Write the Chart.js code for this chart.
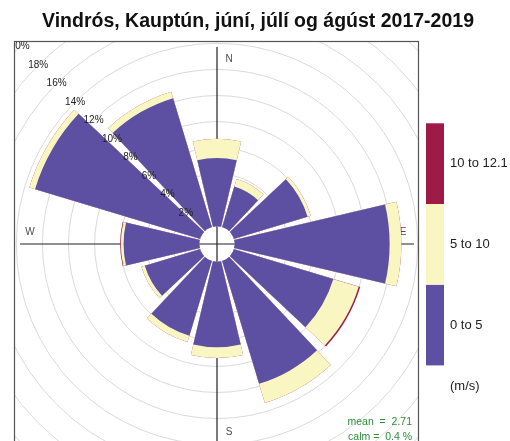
<!DOCTYPE html>
<html>
<head>
<meta charset="utf-8">
<script src="https://cdn.jsdelivr.net/npm/chart.js@4"></script>
<style>
  html, body { margin: 0; padding: 0; background: #fff; }
  #wrap { position: relative; width: 510px; height: 441px; overflow: hidden; }
  #rose { position: absolute; left: -62px; top: -35px; }
</style>
</head>
<body>
<div id="wrap"><canvas id="rose" width="600" height="600"></canvas></div>
<script>
// Direcciones (grados) y frecuencia (%) de cada rango de velocidad
const directions = [0, 30, 60, 90, 120, 150, 180, 210, 240, 270, 300, 330];
const freq0to5 = [5.21, 3.22, 5.87, 11.85, 7.93, 9.81, 6.54, 5.96, 4.40, 5.78, 13.18, 10.29];
const freq5to10 = [1.48, 0.61, 0.26, 0.90, 2.03, 1.53, 0.82, 0.51, 0.27, 0.21, 0.46, 0.51];
const freq10to12 = [0, 0, 0, 0, 0.12, 0, 0, 0, 0, 0.05, 0, 0];
const bandLabels = ["0 to 5", "5 to 10", "10 to 12.1"];
const bandColors = ["#5D4FA1", "#F9F6C2", "#9E1B47"];
const radialTicks = [2, 4, 6, 8, 10, 12, 14, 16, 18, 20];
const compassLabels = ["N", "E", "S", "W"];
const titleText = "Vindrós, Kauptún, júní, júlí og ágúst 2017-2019";
const statsText = ["mean  =  2.71", "calm =  0.4 %"];
const unitText = "(m/s)";

const WEDGE = 26.5; // ancho de cada cuña en grados
const GAP = 3.5;    // hueco entre cuñas
const OX = 62, OY = 35; // desplazamiento del canvas respecto a la página
const FONT = "'Liberation Sans', Arial, sans-serif";

// Frecuencias acumuladas para apilar las cuñas
const cum1 = freq0to5.slice();
const cum2 = cum1.map((v, i) => v + freq5to10[i]);
const cum3 = cum2.map((v, i) => v + freq10to12[i]);

// Cada dirección va seguida de un hueco vacío
function withGaps(values) {
    const out = [];
    values.forEach(v => { out.push(v); out.push(0); });
    return out;
}

const labels = directions.flatMap(d => [d + "°", ""]);
const datasets = [cum1, cum2, cum3].map((vals, k) => ({
    label: bandLabels[k],
    data: withGaps(vals),
    backgroundColor: ctx => ctx.dataIndex % 2 ? "rgba(0,0,0,0)" : bandColors[k],
    borderWidth: 0,
    angle: ctx => ctx.dataIndex % 2 ? GAP : WEDGE
}));

// Elementos de la figura: marco, ejes, etiquetas, leyenda
const decor = {
    id: "decor",
    beforeDraw(chart) {
        const ctx = chart.ctx;
        ctx.save();
        ctx.fillStyle = "#fff";
        ctx.fillRect(0, 0, chart.width, chart.height);
        ctx.beginPath();
        ctx.rect(14 + OX, 41 + OY, 404, 410);
        ctx.clip();
    },
    beforeDatasetsDraw(chart) {
        const ctx = chart.ctx;
        const s = chart.scales.r;
        const cx = s.xCenter - OX, cy = s.yCenter - OY;
        ctx.save();
        ctx.translate(OX, OY);
        ctx.strokeStyle = "#222";
        ctx.lineWidth = 1.2;
        ctx.beginPath();
        ctx.moveTo(cx, cy - 197); ctx.lineTo(cx, cy + 200);
        ctx.moveTo(cx - 197, cy); ctx.lineTo(cx + 197, cy);
        ctx.stroke();
        ctx.fillStyle = "#4d4d4d";
        ctx.font = "10px " + FONT;
        ctx.textAlign = "center";
        ctx.textBaseline = "middle";
        const pos = [[12, -185], [186, -12], [12, 188], [-187, -12]];
        compassLabels.forEach((t, i) => ctx.fillText(t, cx + pos[i][0], cy + pos[i][1]));
        ctx.restore();
    },
    afterDatasetsDraw(chart) {
        const ctx = chart.ctx;
        const s = chart.scales.r;
        const cx = s.xCenter - OX, cy = s.yCenter - OY;
        const hole = s.getDistanceFromCenterForValue(0) - 0.5;
        ctx.save();
        ctx.translate(OX, OY);
        // círculo de calma
        ctx.fillStyle = "#fff";
        ctx.beginPath();
        ctx.arc(cx, cy, hole, 0, Math.PI * 2);
        ctx.fill();
        ctx.strokeStyle = "#222";
        ctx.lineWidth = 1.2;
        ctx.beginPath();
        ctx.moveTo(cx, cy - hole); ctx.lineTo(cx, cy + hole);
        ctx.moveTo(cx - hole, cy); ctx.lineTo(cx + hole, cy);
        ctx.stroke();
        // etiquetas de porcentaje en la diagonal NO
        ctx.fillStyle = "#222";
        ctx.font = "10px " + FONT;
        ctx.textAlign = "center";
        ctx.textBaseline = "middle";
        s.ticks.forEach(t => {
            const d = s.getDistanceFromCenterForValue(t.value) * Math.SQRT1_2;
            ctx.fillText(t.value + "%", cx - d, cy - d);
        });
        ctx.restore();
        ctx.restore(); // fin del recorte del panel

        ctx.save();
        ctx.translate(OX, OY);
        ctx.strokeStyle = "#555";
        ctx.lineWidth = 1.2;
        ctx.strokeRect(14.5, 41.5, 404, 410);
        // título
        ctx.fillStyle = "#111";
        ctx.font = "bold 19.5px " + FONT;
        ctx.textAlign = "center";
        ctx.textBaseline = "alphabetic";
        ctx.fillText(titleText, 258, 27);
        // leyenda de colores
        ctx.font = "13px " + FONT;
        ctx.textAlign = "left";
        ctx.textBaseline = "middle";
        bandColors.forEach((c, i) => {
            const y = 123.3 + (bandColors.length - 1 - i) * 80.7;
            ctx.fillStyle = c;
            ctx.fillRect(426, y, 18, 80.7);
            ctx.fillStyle = "#222";
            ctx.fillText(bandLabels[i], 450, y + 40.5);
        });
        ctx.fillText(unitText, 450, 386);
        // estadísticas
        ctx.fillStyle = "#2E8B3A";
        ctx.font = "10.5px " + FONT;
        ctx.textAlign = "right";
        ctx.fillText(statsText[0], 412, 422);
        ctx.fillText(statsText[1], 412, 437);
        ctx.restore();
    }
};

new Chart(document.getElementById("rose"), {
    type: "polarArea",
    data: { labels: labels, datasets: datasets },
    options: {
        responsive: false,
        animation: false,
        devicePixelRatio: 1,
        events: [],
        layout: { padding: { left: 0, top: 0, right: 42, bottom: 42 } },
        plugins: { legend: { display: false }, tooltip: { enabled: false } },
        scales: {
            r: {
                min: -1.38,
                max: 20,
                startAngle: -WEDGE / 2,
                ticks: { display: false, stepSize: 2 },
                afterBuildTicks: scale => { scale.ticks = radialTicks.map(v => ({ value: v })); },
                grid: { color: "#dadada", lineWidth: 1, circular: true },
                angleLines: { display: false },
                pointLabels: { display: false }
            }
        }
    },
    plugins: [decor]
});
</script>
</body>
</html>
